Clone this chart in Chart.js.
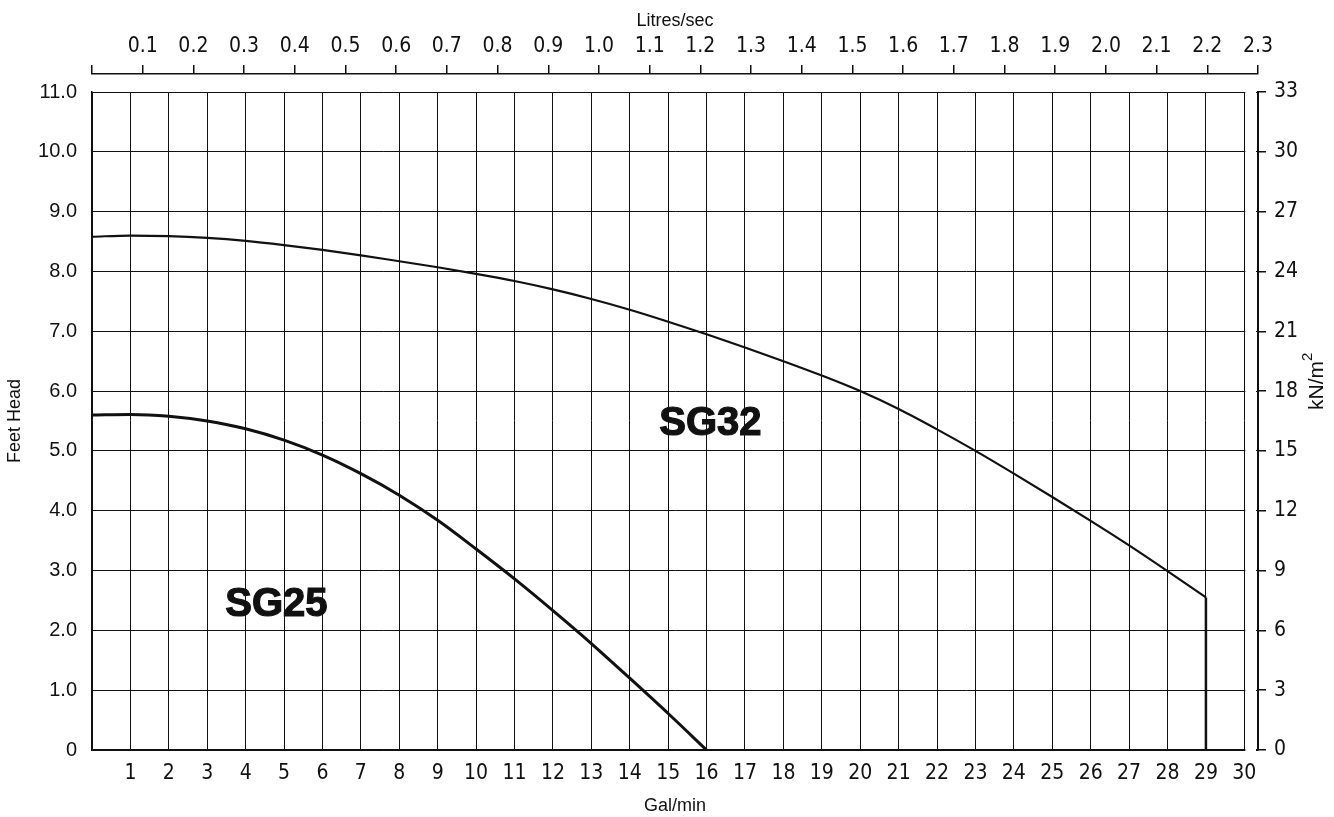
<!DOCTYPE html>
<html>
<head>
<meta charset="utf-8">
<script src="https://cdn.jsdelivr.net/npm/chart.js@4.4.0/dist/chart.umd.min.js"></script>
<style>
  html, body { margin: 0; padding: 0; background: #fff; }
</style>
</head>
<body>
<canvas id="pumpChart" width="1334" height="817"></canvas>
<script>
// pump curves, flow in gal/min against head in feet
const flowSG25 = [0, 1, 2, 3, 4, 5, 6, 7, 8, 9, 10, 11, 12, 13, 14, 15, 16];
const headSG25 = [5.60, 5.61, 5.58, 5.50, 5.37, 5.18, 4.93, 4.62, 4.26, 3.84, 3.36, 2.86, 2.33, 1.78, 1.20, 0.61, 0];

const flowSG32 = [0, 1, 2, 3, 4, 5, 6, 7, 8, 9, 10, 11, 12, 13, 14, 15, 16, 17, 18, 19, 20, 21, 22, 23, 24, 25, 26, 27, 28, 29];
const headSG32 = [8.58, 8.60, 8.59, 8.56, 8.51, 8.44, 8.36, 8.27, 8.17, 8.07, 7.96, 7.84, 7.70, 7.54, 7.36, 7.16, 6.95, 6.73, 6.50, 6.26, 6.00, 5.70, 5.36, 5.00, 4.62, 4.23, 3.83, 3.42, 2.99, 2.55];

// SG32 drops straight down at the end of its range
const dropFlow = [29, 29];
const dropHead = [2.55, 0];

// axis ticks
const galTicks = [0, 1, 2, 3, 4, 5, 6, 7, 8, 9, 10, 11, 12, 13, 14, 15, 16, 17, 18, 19, 20, 21, 22, 23, 24, 25, 26, 27, 28, 29, 30];
const feetTicks = [0, 1, 2, 3, 4, 5, 6, 7, 8, 9, 10, 11];
const litreTicks = [0, 0.1, 0.2, 0.3, 0.4, 0.5, 0.6, 0.7, 0.8, 0.9, 1.0, 1.1, 1.2, 1.3, 1.4, 1.5, 1.6, 1.7, 1.8, 1.9, 2.0, 2.1, 2.2, 2.3];
const kNTicks = [0, 3, 6, 9, 12, 15, 18, 21, 24, 27, 30, 33];

// curve names written on the grid
const curveNames = ['SG25', 'SG32'];
const nameFlow = [4.8, 16.1];
const nameHead = [2.42, 5.45];

const LPS_PER_GPM = 0.0757682; // imperial gallon
const litreMax = 2.3;
const galMax = litreMax / LPS_PER_GPM;

const ink = '#111';
const narrow = "'Liberation Sans Narrow', 'DejaVu Sans Condensed', 'Liberation Sans', sans-serif";
const plain = "'Liberation Sans', Arial, sans-serif";
const tickFont = { family: narrow, size: 21 };
const leftFont = { family: plain, size: 20 };
const titleFont = { family: plain, size: 18 };

const toPoints = (xs, ys) => xs.map((x, i) => ({ x: x, y: ys[i] }));
const setTicks = list => scale => { scale.ticks = list.map(v => ({ value: v })); };

// blank the strip between the 30 gal line and the kN/m2 axis
const stripPlugin = {
    id: 'strip',
    beforeDatasetsDraw(chart) {
        const { ctx, chartArea } = chart;
        const x30 = chart.scales.x.getPixelForValue(galTicks[galTicks.length - 1]);
        ctx.save();
        ctx.fillStyle = '#fff';
        ctx.fillRect(x30 + 1, chartArea.top - 2, chartArea.right - 2 - (x30 + 1), chartArea.bottom - chartArea.top + 4);
        ctx.restore();
    }
};

// curve names and the right hand axis title
const textPlugin = {
    id: 'texts',
    afterDatasetsDraw(chart) {
        const { ctx, chartArea } = chart;
        const xs = chart.scales.x, ys = chart.scales.y;
        ctx.save();
        ctx.fillStyle = ink;
        ctx.strokeStyle = ink;
        ctx.lineWidth = 1.2;
        ctx.font = "bold 40px " + plain;
        ctx.textAlign = 'center';
        ctx.textBaseline = 'middle';
        curveNames.forEach((name, i) => {
            const px = xs.getPixelForValue(nameFlow[i]);
            const py = ys.getPixelForValue(nameHead[i]);
            ctx.fillText(name, px, py);
            ctx.strokeText(name, px, py);
        });

        // kN/m2 reads bottom to top
        const kx = chart.scales.yk.right - 17;
        const ky = chartArea.top + (chartArea.bottom - chartArea.top) * 0.44;
        ctx.translate(kx, ky);
        ctx.rotate(-Math.PI / 2);
        ctx.font = "21px " + plain;
        const w = ctx.measureText('kN/m').width;
        ctx.textAlign = 'left';
        ctx.fillText('kN/m', -w / 2 - 4, 0);
        ctx.font = "15px " + plain;
        ctx.fillText('2', w / 2 - 4, -9);
        ctx.restore();
    }
};

const ctx = document.getElementById('pumpChart').getContext('2d');
const pumpChart = new Chart(ctx, {
    type: 'line',
    data: {
        datasets: [{
            label: 'SG25',
            data: toPoints(flowSG25, headSG25),
            borderColor: ink,
            borderWidth: 3,
            pointRadius: 0,
            cubicInterpolationMode: 'monotone'
        }, {
            label: 'SG32',
            data: toPoints(flowSG32, headSG32),
            borderColor: ink,
            borderWidth: 2.2,
            pointRadius: 0,
            cubicInterpolationMode: 'monotone'
        }, {
            label: 'SG32 end',
            data: toPoints(dropFlow, dropHead),
            borderColor: ink,
            borderWidth: 2.5,
            pointRadius: 0
        }]
    },
    options: {
        responsive: false,
        animation: false,
        layout: { padding: 0 },
        plugins: {
            legend: { display: false },
            tooltip: { enabled: false }
        },
        scales: {
            x: {
                type: 'linear',
                position: 'bottom',
                min: 0,
                max: galMax,
                afterBuildTicks: setTicks(galTicks),
                afterFit: s => { s.height = 67; },
                grid: { color: ink, lineWidth: 1, drawTicks: false },
                border: { color: ink, width: 1.5 },
                ticks: {
                    font: tickFont, color: ink, padding: 11, maxRotation: 0, autoSkip: false,
                    callback: v => v === 0 ? '' : String(v)
                },
                title: { display: true, text: 'Gal/min', font: titleFont, color: ink, padding: { top: 0, bottom: 0 } }
            },
            y: {
                type: 'linear',
                position: 'left',
                min: 0,
                max: 11,
                afterBuildTicks: setTicks(feetTicks),
                afterFit: s => { s.width = 92; },
                grid: { color: ink, lineWidth: 1, drawTicks: false },
                border: { color: ink, width: 1.5 },
                ticks: {
                    font: leftFont, color: ink, padding: 15,
                    callback: v => v === 0 ? '0' : v.toFixed(1)
                },
                title: { display: true, text: 'Feet Head', font: titleFont, color: ink, padding: { top: 4, bottom: 0 } }
            },
            yk: {
                type: 'linear',
                position: 'right',
                min: 0,
                max: 33,
                afterBuildTicks: setTicks(kNTicks),
                afterFit: s => { s.width = 76; },
                grid: { drawOnChartArea: false, tickLength: 8, color: ink, lineWidth: 1.5 },
                border: { color: ink, width: 2 },
                ticks: { font: tickFont, color: ink, padding: 8 }
            },
            xl: {
                type: 'linear',
                position: 'top',
                weight: 1,
                min: 0,
                max: litreMax,
                afterBuildTicks: setTicks(litreTicks),
                afterFit: s => { s.height = 74; },
                grid: { drawOnChartArea: false, tickLength: 9, color: ink, lineWidth: 1.5 },
                border: { color: ink, width: 1.5 },
                ticks: {
                    font: tickFont, color: ink, padding: 6, maxRotation: 0, autoSkip: false,
                    callback: v => v === 0 ? '' : v.toFixed(1)
                },
                title: { display: true, text: 'Litres/sec', font: titleFont, color: ink, padding: { top: 10, bottom: 0 } }
            },
            gap: {
                type: 'linear',
                position: 'top',
                weight: 0,
                afterFit: s => { s.height = 18; },
                grid: { display: false },
                border: { display: false },
                ticks: { display: false }
            }
        }
    },
    plugins: [stripPlugin, textPlugin]
});
</script>
</body>
</html>
